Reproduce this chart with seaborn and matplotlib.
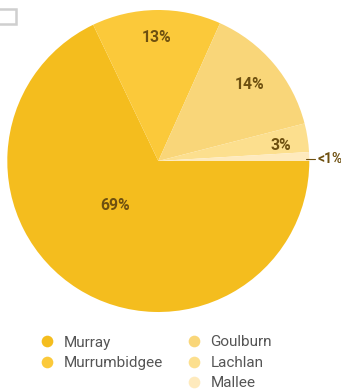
import matplotlib
matplotlib.use("Agg")
import matplotlib.pyplot as plt
import seaborn as sns
import numpy as np
from matplotlib.lines import Line2D
from matplotlib.patches import Rectangle

sns.set_theme(style="white")
plt.rcParams['font.family'] = ['Roboto', 'DejaVu Sans']

regions = ["Murray", "Murrumbidgee", "Goulburn", "Lachlan", "Mallee"]
shares = [67.9, 13.8, 14.3, 3.05, 0.95]
labels = ["69%", "13%", "14%", "3%", "<1%"]
colors = ["#F4BD1E", "#FBC93A", "#F9D679", "#FCDF8E", "#FEEABD"]

W, H = 341, 392
R = 151
cx, cy = 158.3, 161
fig = plt.figure(figsize=(W / 100, H / 100), dpi=100)
ax = fig.add_axes([(cx - R) / W, (H - cy - R) / H, 2 * R / W, 2 * R / H])

wedges, _ = ax.pie(shares, colors=colors, startangle=0, counterclock=False,
                   radius=1, wedgeprops=dict(linewidth=0))
ax.set_xlim(-1, 1)
ax.set_ylim(-1, 1)
ax.set_aspect("equal")
ax.axis("off")

label_col = "#6E5010"
dist = [0.41, 0.82, 0.79, 0.82]
angs = [-134, None, None, 7]
for i, w in enumerate(wedges[:4]):
    a = angs[i] if angs[i] is not None else (w.theta1 + w.theta2) / 2
    a = np.deg2rad(a)
    ax.text(dist[i] * np.cos(a), dist[i] * np.sin(a), labels[i],
            ha="center", va="center", fontsize=11.3, fontweight="bold",
            color=label_col)

# outside label for the tiny slice
y = 0.015
ax.plot([0.98, 1.035], [y, y], color=label_col, lw=0.8, clip_on=False)
ax.text(1.052, y, labels[4], ha="left", va="center", fontsize=10,
        fontweight="bold", color=label_col, clip_on=False)

# legend (two columns: 2 + 3)
handles = [Line2D([], [], marker="o", ls="", markersize=8.4,
                  markerfacecolor=c, markeredgewidth=0) for c in colors]
blank = Line2D([], [], ls="", marker="")
order_h = [handles[0], handles[1], blank, handles[2], handles[3], handles[4]]
order_l = [regions[0], regions[1], "", regions[2], regions[3], regions[4]]
fig.legend(order_h, order_l, ncol=2, loc="upper left",
           bbox_to_anchor=(39.4 / W, 1 - 335.5 / H), frameon=False,
           fontsize=11, labelcolor="#555555", handlelength=1.0,
           handletextpad=0.6, columnspacing=1.5, labelspacing=0.42,
           borderaxespad=0, borderpad=0)

# small outlined box at the top-left corner
fig.patches.append(Rectangle((-6 / W, 1 - 24 / H), 22 / W, 15 / H,
                             transform=fig.transFigure, fill=False,
                             edgecolor="#CFCFCF", lw=1.8))

fig.savefig("out.png", dpi=100)
